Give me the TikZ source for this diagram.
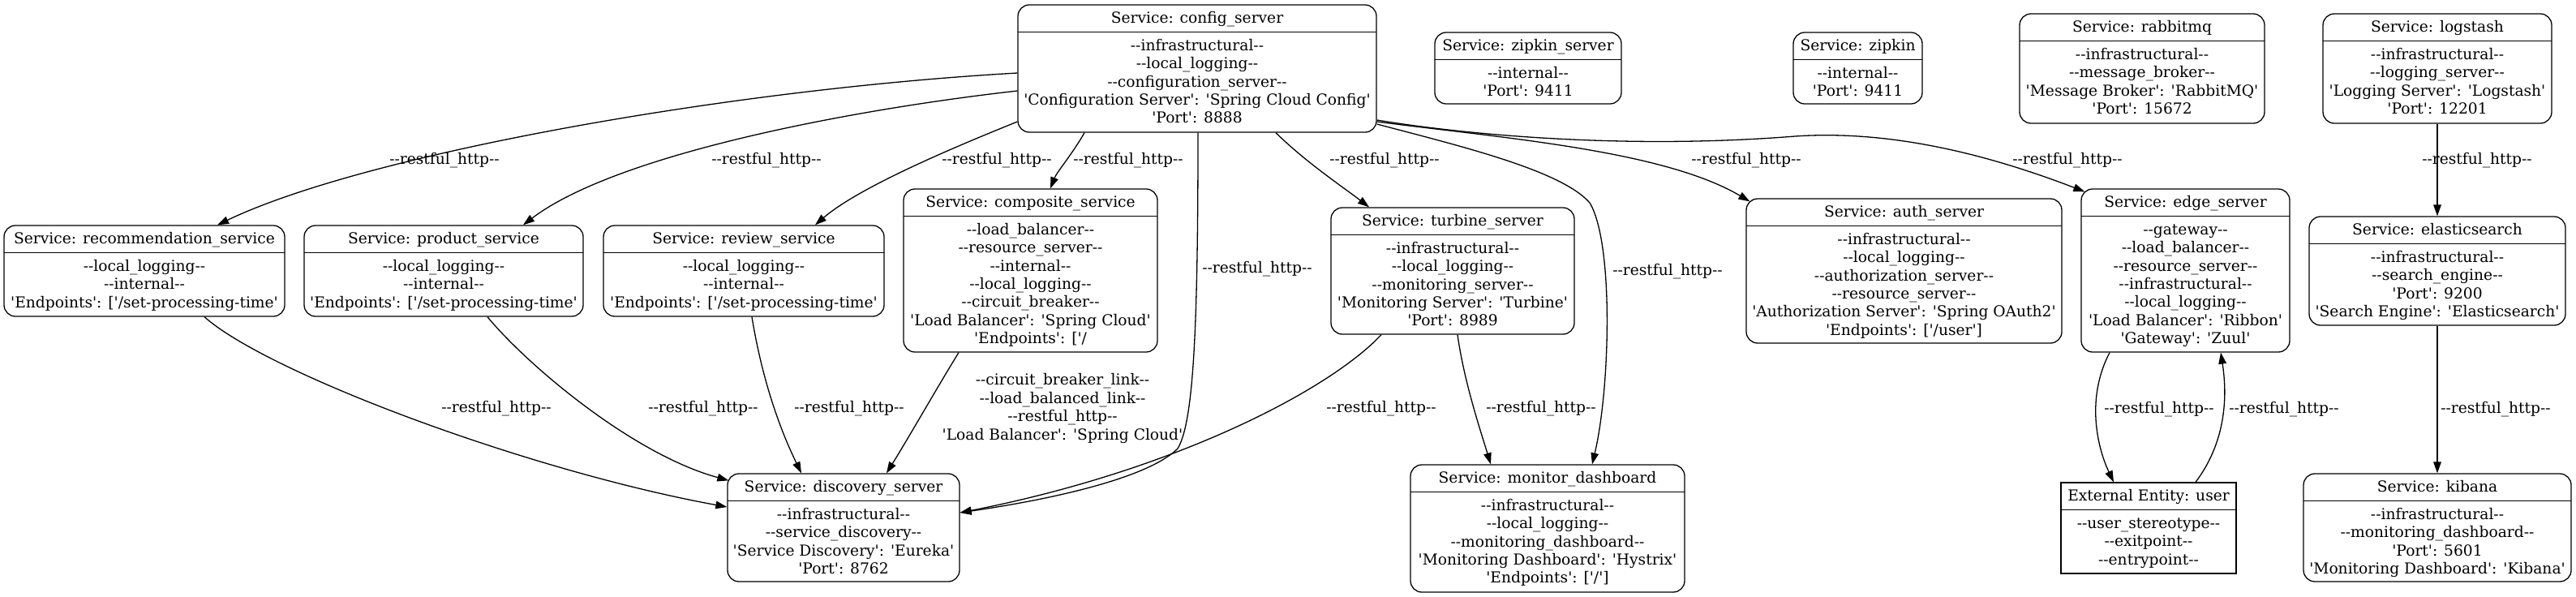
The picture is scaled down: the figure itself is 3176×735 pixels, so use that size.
\documentclass[tikz,border=0pt]{standalone}
\usepackage{fontspec}
\setmainfont{DejaVu Serif}[Ligatures=TeXOff]
\usetikzlibrary{arrows.meta}
\tikzset{
  svcbox/.style={draw, rounded corners=7pt, inner sep=0pt, line width=0.65pt},
  extbox/.style={sharp corners},
  sepline/.style={line width=0.65pt},
  txt/.style={align=center, inner sep=0pt, font=\fontsize{9.33}{11.2}\selectfont},
  lbl/.style={txt},
  conn/.style={draw, line width=0.65pt, -{Triangle[length=7pt,width=4.8pt]}},
}
% #1 extra style, #2 name, #3 x1, #4 x2, #5 y1, #6 y2, #7 title, #8 body
\newcommand\svc[8][]{%
  \pgfmathsetmacro\svcw{(#4-#3)*0.5}%
  \pgfmathsetmacro\svch{(#6-#5)*0.5}%
  \pgfmathsetmacro\svcx{(#3+#4)/2}%
  \pgfmathsetmacro\svcy{(#5+#6)/2}%
  \pgfmathsetmacro\svchy{#5+33.5}%
  \pgfmathsetmacro\svcty{#5+22.5}%
  \pgfmathsetmacro\svcby{\svchy+6.8}%
  \node[svcbox,#1,minimum width=\svcw pt,minimum height=\svch pt] (#2) at (\svcx,\svcy) {};
  \draw[sepline] (#3,\svchy) -- (#4,\svchy);
  \node[txt,anchor=base] (#2-t) at (\svcx,\svcty) {#7};
  \node[txt,anchor=north] (#2-b) at (\svcx,\svcby) {\strut#8};
}
\begin{document}
\begin{tikzpicture}[x=0.5pt,y=-0.5pt]
\useasboundingbox (0,0) rectangle (3176,735);
% rank 0
\svc{cfg}{1255}{1697}{6}{163}{Service: config\_server}{--infrastructural--\\--local\_logging--\\--configuration\_server--\\'Configuration Server': 'Spring Cloud Config'\\'Port': 8888}
\svc{zips}{1769}{1999}{40}{128}{Service: zipkin\_server}{--internal--\\'Port': 9411}
\svc{zip}{2211}{2370}{40}{128}{Service: zipkin}{--internal--\\'Port': 9411}
\svc{rmq}{2490}{2792}{17}{152}{Service: rabbitmq}{--infrastructural--\\--message\_broker--\\'Message Broker': 'RabbitMQ'\\'Port': 15672}
\svc{log}{2864}{3146}{17}{152}{Service: logstash}{--infrastructural--\\--logging\_server--\\'Logging Server': 'Logstash'\\'Port': 12201}
% rank 1
\svc{rec}{5}{351}{278}{390}{Service: recommendation\_service}{--local\_logging--\\--internal--\\'Endpoints': ['/set-processing-time'}
\svc{prod}{375}{719}{278}{390}{Service: product\_service}{--local\_logging--\\--internal--\\'Endpoints': ['/set-processing-time'}
\svc{rev}{744}{1090}{278}{390}{Service: review\_service}{--local\_logging--\\--internal--\\'Endpoints': ['/set-processing-time'}
\svc{comp}{1114}{1427}{233}{434}{Service: composite\_service}{--load\_balancer--\\--resource\_server--\\--internal--\\--local\_logging--\\--circuit\_breaker--\\'Load Balancer': 'Spring Cloud'\\'Endpoints': ['/}
\svc{turb}{1641}{1941}{256}{412}{Service: turbine\_server}{--infrastructural--\\--local\_logging--\\--monitoring\_server--\\'Monitoring Server': 'Turbine'\\'Port': 8989}
\svc{auth}{2153}{2542}{245}{423}{Service: auth\_server}{--infrastructural--\\--local\_logging--\\--authorization\_server--\\--resource\_server--\\'Authorization Server': 'Spring OAuth2'\\'Endpoints': ['/user']}
\svc{edge}{2566}{2823}{233}{434}{Service: edge\_server}{--gateway--\\--load\_balancer--\\--resource\_server--\\--infrastructural--\\--local\_logging--\\'Load Balancer': 'Ribbon'\\'Gateway': 'Zuul'}
\svc{ela}{2847}{3163}{267}{401}{Service: elasticsearch}{--infrastructural--\\--search\_engine--\\'Port': 9200\\'Search Engine': 'Elasticsearch'}
% rank 2
\svc{disc}{897}{1183}{584}{717}{Service: discovery\_server}{--infrastructural--\\--service\_discovery--\\'Service Discovery': 'Eureka'\\'Port': 8762}
\svc{mon}{1739}{2077}{573}{730}{Service: monitor\_dashboard}{--infrastructural--\\--local\_logging--\\--monitoring\_dashboard--\\'Monitoring Dashboard': 'Hystrix'\\'Endpoints': ['/']}
\svc[extbox]{user}{2541}{2757}{595}{707}{External Entity: user}{--user\_stereotype--\\--exitpoint--\\--entrypoint--}
\svc{kib}{2840}{3170}{584}{717}{Service: kibana}{--infrastructural--\\--monitoring\_dashboard--\\'Port': 5601\\'Monitoring Dashboard': 'Kibana'}
% connectors
\draw[conn] (cfg.west |- 0,90) .. controls (900,110) and (450,190) .. (rec.north -| 268,0);
\draw[conn] (cfg.west |- 0,112) .. controls (1050,135) and (760,190) .. (prod.north -| 645,0);
\draw[conn] (cfg.west |- 0,150) .. controls (1180,180) and (1060,230) .. (rev.north -| 1005,0);
\draw[conn] (cfg.south -| 1337,0) .. controls (1322,190) and (1303,212) .. (comp.north -| 1295,0);
\draw[conn] (cfg.south -| 1477,0) .. controls (1477,400) and (1472,520) .. (1452,553) .. controls (1420,585) and (1320,612) .. (disc.east |- 0,632);
\draw[conn] (cfg.south -| 1573,0) .. controls (1610,200) and (1655,230) .. (turb.north -| 1688,0);
\draw[conn] (cfg.east |- 0,153) .. controls (1800,180) and (1925,210) .. (1960,250) .. controls (1990,300) and (1985,480) .. (mon.north -| 1963,0);
\draw[conn] (cfg.east |- 0,150) .. controls (1850,170) and (2050,185) .. ([shift={(5,4)}]auth.north west);
\draw[conn] (cfg.east |- 0,148) .. controls (1800,165) and (2000,185) .. (2213,168) .. controls (2330,160) and (2450,190) .. ([shift={(5,4)}]edge.north west);
\draw[conn] (log.south) -- (ela.north);
\draw[conn] (rec.south -| 252,0) .. controls (330,460) and (650,580) .. (disc.west |- 0,625);
\draw[conn] (prod.south -| 601,0) .. controls (650,450) and (780,560) .. ([shift={(2,9)}]disc.north west);
\draw[conn] (rev.south -| 927,0) .. controls (940,470) and (962,530) .. (disc.north -| 988,0);
\draw[conn] (comp.south -| 1182,0) .. controls (1160,470) and (1120,540) .. (disc.north -| 1093,0);
\draw[conn] (turb.south -| 1703,0) .. controls (1640,480) and (1450,580) .. (disc.east |- 0,632);
\draw[conn] (turb.south -| 1797,0) .. controls (1805,470) and (1825,530) .. (mon.north -| 1838,0);
\draw[conn] (edge.south -| 2601,0) .. controls (2572,490) and (2585,550) .. (user.north -| 2606,0);
\draw[conn] (user.north -| 2707,0) .. controls (2748,540) and (2745,480) .. (edge.south -| 2738,0);
\draw[conn] (ela.south) -- (kib.north);
% labels
\node[lbl] (t1) at (548,198) {\strut--restful\_http--};
\node[lbl] (t2) at (945,198) {\strut--restful\_http--};
\node[lbl] (t3) at (1229,198) {\strut--restful\_http--};
\node[lbl] (t4) at (1391,198) {\strut--restful\_http--};
\node[lbl] (t5) at (1550,332) {\strut--restful\_http--};
\node[lbl] (t6) at (1707,198) {\strut--restful\_http--};
\node[lbl] (t7) at (2056,335) {\strut--restful\_http--};
\node[lbl] (t8) at (2153,198) {\strut--restful\_http--};
\node[lbl] (t9) at (2549,198) {\strut--restful\_http--};
\node[lbl] (t10) at (3054,198) {\strut--restful\_http--};
\node[lbl] (t11) at (612,504) {\strut--restful\_http--};
\node[lbl] (t12) at (867,504) {\strut--restful\_http--};
\node[lbl] (t13) at (1047,504) {\strut--restful\_http--};
\node[lbl] (t14) at (1310,504) {\strut--circuit\_breaker\_link--\\--load\_balanced\_link--\\--restful\_http--\\'Load Balancer': 'Spring Cloud'\strut};
\node[lbl] (t15) at (1703,504) {\strut--restful\_http--};
\node[lbl] (t16) at (1900,504) {\strut--restful\_http--};
\node[lbl] (t17) at (2662,505) {\strut--restful\_http--};
\node[lbl] (t18) at (2816,505) {\strut--restful\_http--};
\node[lbl] (t19) at (3077,505) {\strut--restful\_http--};
\end{tikzpicture}
\end{document}
